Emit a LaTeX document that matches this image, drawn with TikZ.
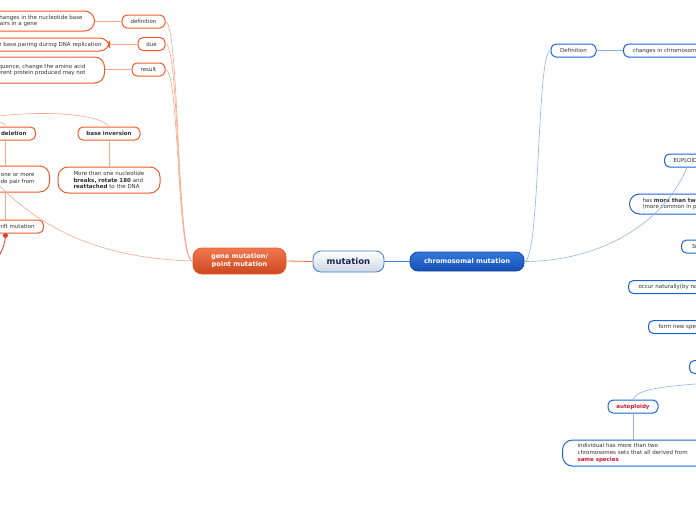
\documentclass[tikz,border=0pt]{standalone}
\usepackage{fontspec}
\setmainfont{DejaVu Sans}
\usetikzlibrary{positioning, calc}
\definecolor{arancio}{RGB}{240,90,40}
\definecolor{aranciochiaro}{RGB}{246,168,138}
\definecolor{arancioforte}{RGB}{238,105,70}
\definecolor{bluscuro}{RGB}{25,100,215}
\definecolor{bluchiaro}{RGB}{140,180,235}
\definecolor{bluforte}{RGB}{60,125,220}
\definecolor{scuro}{RGB}{50,50,50}
\definecolor{rosso}{RGB}{205,25,55}
\definecolor{puntorosso}{RGB}{232,60,50}
\definecolor{blunotte}{RGB}{25,40,80}

\begin{document}
\begin{tikzpicture}[x=1pt,y=-1pt,
    testo/.style={font=\fontsize{5.5}{6.7}\selectfont, text=scuro},
    grassetto/.style={font=\fontsize{5.5}{6.7}\selectfont\bfseries},
    arancione/.style={testo, draw=arancio, line width=1pt, fill=white, rounded corners=5pt, minimum height=13pt, inner ysep=0pt},
    scatola arancio/.style={arancione, rounded corners=10pt},
    blu/.style={testo, draw=bluscuro, line width=1pt, fill=white, rounded corners=5pt, minimum height=13pt, inner ysep=0pt},
    scatola blu/.style={blu, rounded corners=10pt},
    link arancio/.style={draw=aranciochiaro, line width=0.6pt},
    link blu/.style={draw=bluchiaro, line width=0.6pt}]
        \useasboundingbox (0,0) rectangle (696,520);
        \clip (0,0) rectangle (696,520);
        %nodi principali
            \node[draw=bluforte, line width=0.8pt, rounded corners=8pt, top color=white, bottom color={rgb,255:red,205;green,215;blue,226}, minimum width=71pt, minimum height=21pt, font=\fontsize{8.5}{10}\selectfont\bfseries, text=blunotte] (mut) at (348.5,261.5) {mutation};
            \node[draw=arancio, line width=0.8pt, rounded corners=9pt, top color={rgb,255:red,240;green,120;blue,80}, bottom color={rgb,255:red,205;green,70;blue,30}, minimum width=93pt, minimum height=26pt, align=center, text=white, font=\fontsize{6.6}{7.8}\selectfont\bfseries] (gene) at (239.5,261) {gene mutation/\\point mutation};
            \node[draw={rgb,255:red,20;green,70;blue,170}, line width=0.8pt, rounded corners=8pt, top color={rgb,255:red,50;green,120;blue,220}, bottom color={rgb,255:red,20;green,80;blue,180}, minimum width=114pt, minimum height=19pt, text=white, font=\fontsize{6.6}{7.8}\selectfont\bfseries] (chrom) at (467,261.5) {chromosomal mutation};
        %ramo arancione
            \node[arancione, minimum width=43pt] (def) at (143.5,21.5) {definition};
            \node[arancione, minimum width=27pt] (due) at (151.5,44) {due};
            \node[arancione, minimum width=33pt] (res) at (148.5,69.5) {result};
            \node[scatola arancio, anchor=east, align=left, inner xsep=12pt, minimum height=20pt] (defbox) at (95,21) {changes in the nucleotide base\\pairs in a gene};
            \node[scatola arancio, anchor=east, inner xsep=8pt] (duebox) at (110,44.5) {in base pairing during DNA replication};
            \node[scatola arancio, anchor=east, align=right, inner xsep=19pt, minimum height=26pt] (resbox) at (105,70) {sequence, change the amino acid\\different protein produced may not};
            \node[arancione, grassetto, anchor=east, inner xsep=9pt] (del) at (36,133.5) {base deletion};
            \node[scatola arancio, anchor=east, align=right, inner xsep=15pt, minimum height=26pt] (delbox) at (50,179) {one or more\\nucleotide pair from};
            \node[arancione, anchor=east, inner xsep=9pt] (fs) at (44,226.5) {frameshift mutation};
            \node[arancione, grassetto, minimum width=62pt] (inv) at (109,133.5) {base inversion};
            \node[scatola arancio, minimum width=102pt, minimum height=26pt, text width=71pt, align=left] (invbox) at (109,180) {More than one nucleotide\\\textbf{breaks, rotate 180} and\\\textbf{reattached} to the DNA};
        %ramo blu
            \node[blu, minimum width=45pt] (defc) at (573.5,50.5) {Definition};
            \node[blu, anchor=west, inner xsep=9pt] (chg) at (623,50.5) {changes in chromosome structure};
            \node[blu, anchor=west, inner xsep=9pt] (eu) at (664,160.5) {EUPLOIDY};
            \node[scatola blu, anchor=west, inner xsep=13pt, align=left, minimum height=20pt] (more) at (629,204) {has \textbf{more than two} sets of chromosomes\\(more common in plants)};
            \node[blu, anchor=west, inner xsep=10pt] (tre) at (681,246.5) {3n};
            \node[blu, anchor=west, inner xsep=10pt] (nat) at (628,287) {occur naturally(by non-disjunction)};
            \node[blu, anchor=west, inner xsep=10pt] (nuova) at (648,327) {form new species};
            \node[blu, anchor=west, minimum width=40pt] (altro) at (689,367) {};
            \node[blu, grassetto, text=rosso, minimum width=50pt] (auto) at (633,406.5) {autoploidy};
            \node[scatola blu, anchor=west, text width=125pt, align=left, inner xsep=15pt, minimum height=26pt] (autobox) at (562,453) {individual has more than two\\chromosomes sets that all derived from\\\textcolor{rosso}{\textbf{same species}}};
        %punti fuori dal disegno
            \coordinate (tipi) at (-30,120);
            \coordinate (altri) at (-10,176);
            \coordinate (fuori) at (705,383);
            \coordinate (giu) at (-4,262);
        %collegamenti
            \draw[draw=arancioforte, line width=0.8pt] (mut.west) -- (gene.east);
            \draw[draw=bluforte, line width=0.8pt] (mut.east) -- (chrom.west);
            \foreach \n in {def,due,res}
                \draw[link arancio] (gene.west) .. controls +(-16,0) and ($(\n.east)+(14,0)$) .. (\n.east);
            \draw[link arancio] (def.west) -- (defbox.east |- def.west);
            \draw[link arancio] (due.west) -- (duebox.east |- due.west);
            \draw[link arancio] (res.west) -- (resbox.east |- res.west);
            \draw[link arancio] (tipi) .. controls (40,108) and (100,114) .. (inv.north);
            \draw[link arancio] (tipi) .. controls (-8,119) and (4,121) .. (del.north);
            \draw[link arancio] (inv.south) -- (invbox.north);
            \draw[link arancio] (del.south) -- (del.south |- delbox.north);
            \draw[link arancio] (del.south |- delbox.south) -- (del.south |- fs.north);
            \draw[link arancio] (gene.west) .. controls (100,258) and (40,230) .. (altri);
            \fill[puntorosso] ($(del.south |- fs.south)+(0,2)$) coordinate (punto) circle (2.5pt);
            \draw[puntorosso, line width=0.8pt] (punto) .. controls +(-1,10) .. (giu);
            \draw[link blu] (chrom.east) .. controls +(16,0) and ($(defc.west)+(-14,0)$) .. (defc.west);
            \draw[link blu] (defc.east) -- (chg.west |- defc.east);
            \draw[link blu] (chrom.east) .. controls +(70,0) and ($(eu.south)+(-25,60)$) .. (eu.south);
            \draw[link blu] (fuori) .. controls (665,387) and (638,388) .. (auto.north);
            \draw[link blu] (auto.south) -- (auto.south |- autobox.north);
\end{tikzpicture}
\end{document}
